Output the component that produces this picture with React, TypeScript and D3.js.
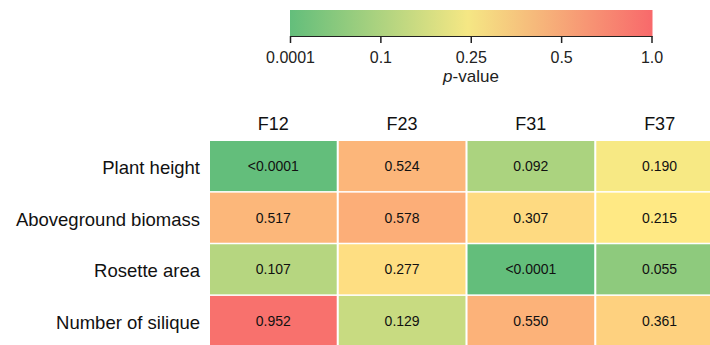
import React from "react";
import * as d3 from "d3";

const traits = ["Plant height", "Aboveground biomass", "Rosette area", "Number of silique"];
const lines = ["F12", "F23", "F31", "F37"];
// p-values per trait (rows), in the order of lines; 0 stands for <0.0001
const plantHeight = [0, 0.524, 0.092, 0.19];
const biomass = [0.517, 0.578, 0.307, 0.215];
const rosetteArea = [0.107, 0.277, 0, 0.055];
const silique = [0.952, 0.129, 0.55, 0.361];
const barTicks = [0.0001, 0.1, 0.25, 0.5, 1.0];
const barTickLabels = ["0.0001", "0.1", "0.25", "0.5", "1.0"];

const rows = [plantHeight, biomass, rosetteArea, silique];
const FONT = "'Liberation Sans', Arial, sans-serif";

export default function App() {
  const width = 710;
  const height = 345;

  const x = d3.scaleBand().domain(lines).range([210, 723]).paddingInner(0.016);
  const y = d3.scaleBand().domain(traits).range([141, 346]).paddingInner(0.03);

  const color = d3
    .scaleLinear<string>()
    .domain([0, 0.2, 1])
    .range(["#63be7b", "#ffeb84", "#f8696b"])
    .interpolate(d3.interpolateRgb);

  const barX = d3
    .scaleLinear()
    .domain(barTicks)
    .range(d3.range(5).map((i) => 290.5 + (i * (652 - 290.5)) / 4));

  const fmt = (v: number) => (v < 0.0001 ? "<0.0001" : d3.format(".3f")(v));

  return (
    <svg
      width={width}
      height={height}
      style={{ position: "absolute", left: 0, top: 0, background: "#fff" }}
      fontFamily={FONT}
    >
      <defs>
        <linearGradient id="pgrad" x1="0" x2="1" y1="0" y2="0">
          <stop offset="0%" stopColor="#63be7b" />
          <stop offset="49%" stopColor="#f5e784" />
          <stop offset="100%" stopColor="#f8696b" />
        </linearGradient>
      </defs>

      {/* colour bar */}
      <rect x={290} y={10} width={362.5} height={26} fill="url(#pgrad)" />
      <line x1={290} x2={652.5} y1={36.5} y2={36.5} stroke="#222" strokeWidth={1} />
      {barTicks.map((t, i) => (
        <g key={t} transform={`translate(${barX(t)},0)`}>
          <line y1={36} y2={43} stroke="#222" strokeWidth={1.5} />
          <text y={63} textAnchor="middle" fontSize={16} fill="#222">
            {barTickLabels[i]}
          </text>
        </g>
      ))}
      <text x={471} y={82} textAnchor="middle" fontSize={17} fill="#222">
        <tspan fontStyle="italic">p</tspan>-value
      </text>

      {/* column headers */}
      {lines.map((l) => (
        <text
          key={l}
          x={(x(l) as number) + x.bandwidth() / 2}
          y={130}
          textAnchor="middle"
          fontSize={18}
          fill="#111"
        >
          {l}
        </text>
      ))}

      {/* row labels */}
      {traits.map((t) => (
        <text
          key={t}
          x={200}
          y={(y(t) as number) + y.bandwidth() / 2 + 8}
          textAnchor="end"
          fontSize={18.5}
          fill="#111"
        >
          {t}
        </text>
      ))}

      {/* cells */}
      {rows.map((vals, ri) =>
        vals.map((v, ci) => {
          const cx = x(lines[ci]) as number;
          const cy = y(traits[ri]) as number;
          return (
            <g key={`${ri}-${ci}`}>
              <rect x={cx} y={cy} width={x.bandwidth()} height={y.bandwidth()} fill={color(v)} />
              <text
                x={cx + x.bandwidth() / 2}
                y={cy + y.bandwidth() / 2 + 5}
                textAnchor="middle"
                fontSize={14}
                fill="#111"
              >
                {fmt(v)}
              </text>
            </g>
          );
        })
      )}
    </svg>
  );
}
